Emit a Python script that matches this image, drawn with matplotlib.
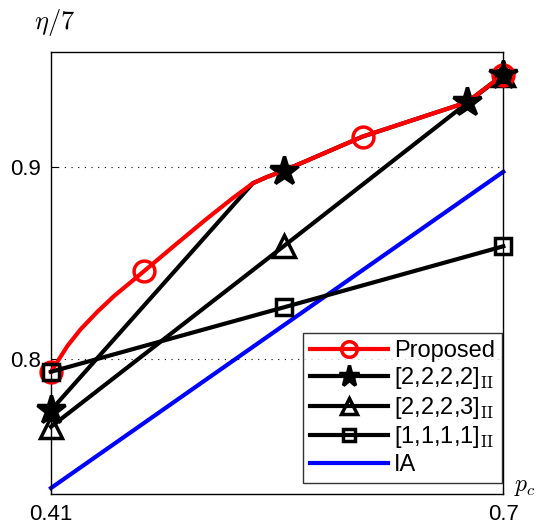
import matplotlib
matplotlib.use("Agg")
import matplotlib.pyplot as plt
import numpy as np

plt.rcParams['font.family'] = ['Liberation Sans', 'DejaVu Sans']
plt.rcParams['mathtext.fontset'] = 'cm'

# proposed scheme (smooth curve, markers on a few samples)
pc_prop = [0.41, 0.4205, 0.4291, 0.4397, 0.4504, 0.4611, 0.4697, 0.488, 0.5095,
           0.5266, 0.5394, 0.548, 0.5591, 0.6098, 0.6766, 0.70]
eta_prop = [0.7936, 0.8070, 0.8158, 0.8248, 0.8330, 0.8402, 0.8460, 0.8585, 0.8730,
            0.8840, 0.8917, 0.8948, 0.8982, 0.9160, 0.9338, 0.9482]
prop_marks = [0, 6, 13, 15]

# [2,2,2,2]_II
pc_2222 = [0.41, 0.5394, 0.548, 0.5591, 0.6098, 0.6766, 0.70]
eta_2222 = [0.7736, 0.8917, 0.8948, 0.8982, 0.9160, 0.9338, 0.9482]
marks_2222 = [0, 3, 5, 6]

# [2,2,2,3]_II
pc_2223 = [0.41, 0.5591, 0.70]
eta_2223 = [0.765, 0.8589, 0.9482]

# [1,1,1,1]_II
pc_1111 = [0.41, 0.5591, 0.70]
eta_1111 = [0.7936, 0.8271, 0.8589]

# IA
pc_ia = [0.41, 0.70]
eta_ia = [0.7331, 0.8977]

fig = plt.figure(figsize=(5.39, 5.27), dpi=100)
ax = fig.add_axes([0.0946, 0.0626, 0.8392, 0.8387])

lw = 3
common = dict(lw=lw, clip_on=False, solid_joinstyle='round', mew=2.5)
ax.plot(pc_ia, eta_ia, color='blue', label='IA', zorder=1, **common)
ax.plot(pc_2222, eta_2222, color='black', marker='*', ms=21,
        markevery=marks_2222, label=r'[2,2,2,2]$_{\mathrm{II}}$', zorder=2, **common)
ax.plot(pc_2223, eta_2223, color='black', marker='^', ms=16, mfc='none',
        label=r'[2,2,2,3]$_{\mathrm{II}}$', zorder=2, **common)
ax.plot(pc_prop, eta_prop, color='red', marker='o', ms=15, mfc='none',
        markevery=prop_marks, label='Proposed', zorder=3, **common)
ax.plot(np.array(pc_2222)[marks_2222], np.array(eta_2222)[marks_2222], ls='none',
        color='black', marker='*', ms=21, zorder=4, clip_on=False)
ax.plot(pc_1111, eta_1111, color='black', marker='s', ms=11, mfc='none',
        label=r'[1,1,1,1]$_{\mathrm{II}}$', zorder=5, **common)

ax.set_xlim(0.41, 0.70)
ax.set_ylim(0.73, 0.96)
ax.set_xticks([0.41, 0.70])
ax.set_xticklabels(['0.41', '0.7'])
ax.set_yticks([0.8, 0.9])
ax.set_yticklabels(['0.8', '0.9'])
ax.tick_params(direction='in', length=5, labelsize=16, pad=7)
ax.yaxis.grid(True, linestyle=(0, (1, 5)), color='black', lw=0.8)
for s in ax.spines.values():
    s.set_linewidth(1)

handles, labels = ax.get_legend_handles_labels()
order = ['Proposed', r'[2,2,2,2]$_{\mathrm{II}}$', r'[2,2,2,3]$_{\mathrm{II}}$',
         r'[1,1,1,1]$_{\mathrm{II}}$', 'IA']
hmap = dict(zip(labels, handles))
leg = ax.legend([hmap[k] for k in order], order, loc='lower right',
                bbox_to_anchor=(1.0, 0.022), fontsize=17,
                handlelength=3.3, handletextpad=0.25, labelspacing=0.15,
                borderpad=0.3, borderaxespad=0.05, frameon=True, fancybox=False,
                edgecolor='black', markerscale=0.75)
leg.get_frame().set_linewidth(1)

fig.text(0.102, 0.958, r'$\eta/7$', fontsize=19, ha='center', va='center')
fig.text(0.974, 0.076, r'$p_c$', fontsize=17, ha='center', va='center')

fig.savefig('out.png', dpi=100)
